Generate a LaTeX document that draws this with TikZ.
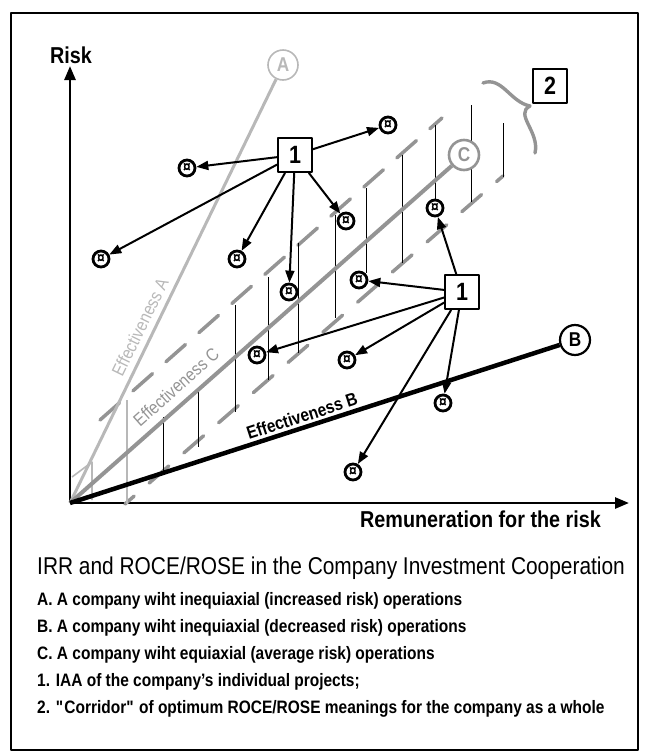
\documentclass[tikz,border=0pt]{standalone}
\usepackage{fontspec}
\setmainfont{Liberation Sans}[FakeStretch=0.86]
\usetikzlibrary{arrows.meta,calc}
\definecolor{lightgrey}{gray}{0.72}
\definecolor{midgrey}{gray}{0.58}

\begin{document}
\begin{tikzpicture}[
		x=1pt,
		y=-1pt,
		>={Triangle[length=12pt,width=9pt]},
		line join=round,
		projdot/.style={circle,draw,fill=white,line width=2.8pt,inner sep=0pt,minimum size=16pt,font=\fontsize{16}{16}\selectfont\bfseries},
		numbox/.style={draw,fill=white,line width=1.8pt,minimum size=34pt,inner sep=0pt,font=\fontsize{25}{25}\selectfont\bfseries},
		endcirc/.style={circle,draw,fill=white,inner sep=0pt,minimum size=30pt,font=\fontsize{20}{20}\selectfont\bfseries},
		efftext/.style={font=\fontsize{18}{18}\selectfont},
		legend/.style={font=\fontsize{18}{18}\selectfont\bfseries,anchor=base west,inner sep=0pt},
		axislabel/.style={font=\fontsize{23}{23}\selectfont\bfseries,inner sep=0pt},
		flow/.style={->,line width=2pt},
		axis/.style={-{Triangle[length=14pt,width=11pt]},line width=2.6pt},
		rung/.style={line width=0.8pt},
		corridor/.style={midgrey,line width=3.5pt,line cap=round}
	]
	
	% Page and frame
	\useasboundingbox (0,0) rectangle (649,753);
	\draw[line width=1.6pt] (11,13) rectangle (638,750);
	
	% Origin and axes
	\coordinate (orig) at (70,503);
	\coordinate (ytip) at (70,66);
	\coordinate (xtip) at (629,503);
	\draw[axis] (orig) -- (ytip);
	\draw[axis] (orig) -- (xtip);
	\node[axislabel,anchor=base] (risk) at (71,63) {Risk};
	\node[axislabel,anchor=base west] (remun) at (360,527) {Remuneration for the risk};
	
	% Corridor of optimum values (2)
	\draw[corridor,dash pattern=on 26pt off 18pt] (100,420) -- (442,118);
	\draw[corridor,dash pattern=on 26pt off 20pt,dash phase=14pt] (125,504) -- (503,176);
	\draw[lightgrey,line width=1.6pt] (72,477) -- (92,462) -- (92,500);
	\draw[lightgrey,line width=1.6pt] (127,400) -- (127,504);
	\foreach \vx/\vt/\vb in {163/417/473, 198/387/447, 235/305/412, 268/277/380, 298/243/353, 335/215/318, 366/188/273, 402/155/263, 435/125/200, 471/105/202, 503/123/177}
	\draw[rung] (\vx,\vt) -- (\vx,\vb);
	
	% Brace and its box
	\draw[midgrey,line width=3.4pt,line cap=round] (483,83) .. controls (502,76) and (510,102) .. (530,106)
	.. controls (514,114) and (540,132) .. (535,153);
	\node[numbox] (two) at (550,86) {2};
	
	% End circles of the three lines
	\node[endcirc,draw=lightgrey,text=lightgrey,line width=1.6pt] (circA) at (283,65) {A};
	\node[endcirc,draw=midgrey,text=midgrey,line width=2.6pt] (circC) at (464,155) {C};
	\node[endcirc,line width=2.2pt] (circB) at (575,340) {B};
	
	% Effectiveness lines
	\draw[lightgrey,line width=3pt] (orig) -- (circA);
	\draw[midgrey,line width=4pt] (orig) -- (circC);
	\draw[line width=4.5pt] (orig) -- (circB);
	
	\node[efftext,text=lightgrey,rotate=64] (effA) at (140,327) {Effectiveness A};
	\node[efftext,text=midgrey,rotate=41.5] (effC) at (176,387) {Effectiveness C};
	\node[efftext,font=\fontsize{18}{18}\selectfont\bfseries,rotate=18] (effB) at (302,416) {Effectiveness B};
	
	% Individual projects, upper group
	\node[numbox] (upone) at (295,155) {1};
	\node[projdot] (u1) at (187,168) {¤};
	\node[projdot] (u2) at (101,259) {¤};
	\node[projdot] (u3) at (237,259) {¤};
	\node[projdot] (u4) at (289,292) {¤};
	\node[projdot] (u5) at (346,221) {¤};
	\node[projdot] (u6) at (388,125) {¤};
	\foreach \d in {u1,u2,u3,u4,u5,u6}
	\draw[flow] (upone) -- (\d);
	
	% Individual projects, lower group
	\node[numbox] (lowone) at (462,292) {1};
	\node[projdot] (l1) at (435,208) {¤};
	\node[projdot] (l2) at (359,280) {¤};
	\node[projdot] (l3) at (257,355) {¤};
	\node[projdot] (l4) at (347,360) {¤};
	\node[projdot] (l5) at (443,403) {¤};
	\node[projdot] (l6) at (353,472) {¤};
	\foreach \d in {l1,l2,l3,l4,l5,l6}
	\draw[flow] (lowone) -- (\d);
	
	% Caption and legend
	\node[legend,font=\fontsize{24.3}{24.3}\selectfont] (title) at (37,574)
	{IRR and ROCE/ROSE in the Company Investment Cooperation};
	\node[legend] (itemA) at (37,605) {A. A company wiht inequiaxial (increased risk) operations};
	\node[legend] (itemB) at (37,632) {B. A company wiht inequiaxial (decreased risk) operations};
	\node[legend] (itemC) at (37,659) {C. A company wiht equiaxial (average risk) operations};
	\node[legend] (itemone) at (37,686) {1. IAA of the company's individual projects;};
	\node[legend] (itemtwo) at (37,713) {2. \textquotedbl Corridor\textquotedbl\ of optimum ROCE/ROSE meanings for the company as a whole};
	
\end{tikzpicture}
\end{document}
